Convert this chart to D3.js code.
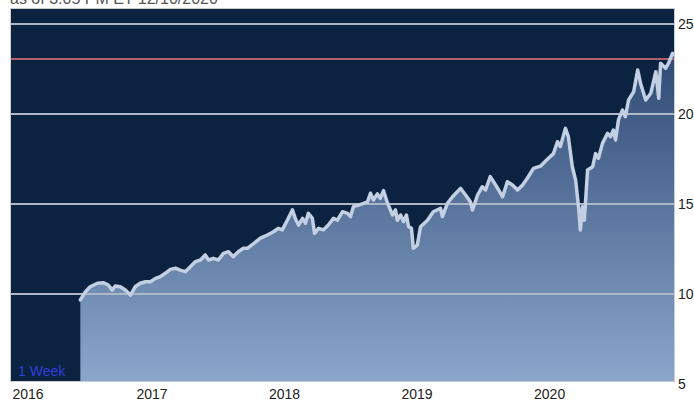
<!DOCTYPE html>
<html>
<head>
  <meta charset="utf-8">
  <title>d3 - price chart</title>
  <script src="https://d3js.org/d3.v7.min.js"></script>
  <style>
    body { margin: 0; background: #fff; }
    text { font-family: Arial, "Liberation Sans", sans-serif; }
  </style>
</head>
<body>
  <script>
    let width = 694;
    let height = 402;

    // data
    let dates = [
      '2016-06-19','2016-07-03','2016-07-16','2016-08-05','2016-08-21','2016-09-04','2016-09-15','2016-09-23',
      '2016-10-07','2016-10-21','2016-11-04','2016-11-17','2016-12-01','2016-12-15','2016-12-29',
      '2017-01-12','2017-01-25','2017-02-08','2017-02-22','2017-03-08','2017-03-21','2017-04-04','2017-04-18',
      '2017-05-02','2017-05-16','2017-05-29','2017-06-07','2017-06-20','2017-07-04','2017-07-18','2017-08-01',
      '2017-08-14','2017-08-28','2017-09-11','2017-09-22','2017-10-09','2017-10-28','2017-11-16','2017-12-03',
      '2017-12-16','2017-12-27',
      '2018-01-10','2018-01-24','2018-02-01','2018-02-10','2018-02-21','2018-03-01','2018-03-09','2018-03-20',
      '2018-03-26','2018-04-06','2018-04-19','2018-05-03','2018-05-17','2018-05-28','2018-06-11','2018-06-25',
      '2018-07-03','2018-07-11','2018-07-25','2018-08-08','2018-08-19','2018-08-27','2018-09-04','2018-09-15',
      '2018-09-23','2018-10-02','2018-10-13','2018-10-27','2018-11-04','2018-11-09','2018-11-18','2018-11-26',
      '2018-12-04','2018-12-10','2018-12-18','2018-12-23',
      '2019-01-03','2019-01-12','2019-01-31','2019-02-16','2019-03-08','2019-03-13','2019-03-27','2019-04-10',
      '2019-05-02','2019-05-16','2019-05-29','2019-06-04','2019-06-18','2019-07-01','2019-07-10','2019-07-23',
      '2019-08-01','2019-08-15','2019-08-26','2019-09-08','2019-09-22','2019-10-06','2019-10-20','2019-11-02',
      '2019-11-19','2019-12-08','2019-12-28',
      '2020-01-13','2020-01-24','2020-02-01','2020-02-15','2020-02-23','2020-03-05','2020-03-14','2020-03-22',
      '2020-03-27','2020-04-02','2020-04-07','2020-04-16','2020-04-30','2020-05-08','2020-05-16','2020-05-27',
      '2020-06-10','2020-06-18','2020-06-26','2020-07-02','2020-07-10','2020-07-21','2020-07-29','2020-08-07',
      '2020-08-21','2020-09-01','2020-09-09','2020-09-23','2020-10-07','2020-10-21','2020-10-29','2020-11-03',
      '2020-11-17','2020-11-25','2020-12-06','2020-12-10'
    ];
    let prices = [
      9.67,10.13,10.40,10.60,10.63,10.50,10.22,10.44,
      10.40,10.22,9.94,10.40,10.60,10.68,10.68,
      10.87,10.96,11.15,11.37,11.43,11.33,11.24,11.52,
      11.80,11.89,12.17,11.89,11.98,11.89,12.26,12.35,
      12.07,12.35,12.54,12.54,12.80,13.10,13.28,13.46,
      13.65,13.56,
      14.10,14.67,14.20,13.83,14.20,13.93,14.48,14.20,
      13.37,13.65,13.56,13.83,14.20,14.10,14.57,14.48,
      14.30,14.85,14.94,15.04,15.13,15.60,15.22,15.56,
      15.31,15.74,15.04,14.39,14.67,14.10,14.39,14.02,
      14.39,13.74,13.65,12.54,
      12.72,13.74,14.10,14.57,14.76,14.30,15.04,15.40,
      15.87,15.50,15.13,14.67,15.50,15.96,15.78,16.52,
      16.24,15.78,15.40,16.24,16.06,15.78,16.06,16.43,
      16.98,17.10,17.50,
      17.80,18.46,18.19,19.20,18.74,17.07,16.33,14.85,
      13.56,14.85,14.10,16.89,17.07,17.80,17.54,18.37,
      18.93,18.74,19.11,18.56,19.67,20.22,19.85,20.78,
      21.24,22.44,21.70,20.78,21.15,22.35,20.87,22.82,
      22.54,22.82,23.37,23.30
    ];
    let yTicks = [5, 10, 15, 20, 25];
    let xTicks = ['2016-01-01','2017-01-01','2018-01-01','2019-01-01','2020-01-01'];
    let refLine = 23.06;
    let startDate = '2015-12-11';
    let endDate = '2020-12-10';
    let asOf = 'as of 3:05 PM ET 12/10/2020';
    let periodLabel = '1 Week';

    let parse = d3.timeParse('%Y-%m-%d');
    let data = dates.map((d, i) => ({ date: parse(d), value: prices[i] }));

    let plotL = 11, plotR = 674, plotT = 9, plotB = 381;

    let x = d3.scaleTime()
      .domain([parse(startDate), parse(endDate)])
      .range([plotL, plotR]);
    let y = d3.scaleLinear()
      .domain([5, 25])
      .range([384, 24]);

    let svg = d3.select('body')
      .append('svg')
      .attr('width', width)
      .attr('height', height);

    // gradient for the area
    let grad = svg.append('defs').append('linearGradient')
      .attr('id', 'fillGrad')
      .attr('gradientUnits', 'userSpaceOnUse')
      .attr('x1', 0).attr('x2', 0)
      .attr('y1', plotT + 20).attr('y2', plotB);
    grad.append('stop').attr('offset', '0%').attr('stop-color', '#28446e');
    grad.append('stop').attr('offset', '100%').attr('stop-color', '#8ba6cb');

    svg.append('clipPath').attr('id', 'plotClip')
      .append('rect')
      .attr('x', plotL).attr('y', plotT)
      .attr('width', plotR - plotL).attr('height', plotB - plotT);

    // "as of" text, cut off at the top like in the original
    svg.append('text')
      .attr('x', 10)
      .attr('y', 4)
      .attr('font-size', 16)
      .attr('fill', '#555')
      .text(asOf);

    // background
    svg.append('rect')
      .attr('x', plotL).attr('y', plotT)
      .attr('width', plotR - plotL).attr('height', plotB - plotT)
      .attr('fill', '#0b2341');

    let plot = svg.append('g').attr('clip-path', 'url(#plotClip)');

    // area
    let area = d3.area()
      .x(d => x(d.date))
      .y0(plotB)
      .y1(d => y(d.value));
    plot.append('path')
      .datum(data)
      .attr('d', area)
      .attr('fill', 'url(#fillGrad)');

    // gridlines
    plot.selectAll('.grid')
      .data(yTicks.filter(v => v > 5))
      .enter()
      .append('line')
      .attr('class', 'grid')
      .attr('x1', plotL).attr('x2', plotR)
      .attr('y1', d => y(d)).attr('y2', d => y(d))
      .attr('stroke', '#aeb7c5')
      .attr('stroke-width', 2);

    plot.append('line')
      .attr('x1', plotL).attr('x2', plotR)
      .attr('y1', y(refLine)).attr('y2', y(refLine))
      .attr('stroke', '#b0606a')
      .attr('stroke-width', 2);

    // price line
    let line = d3.line()
      .x(d => x(d.date))
      .y(d => y(d.value));
    plot.append('path')
      .datum(data)
      .attr('d', line)
      .attr('fill', 'none')
      .attr('stroke', '#c3cfe2')
      .attr('stroke-width', 3.5)
      .attr('stroke-linejoin', 'round')
      .attr('stroke-linecap', 'round');

    // frame
    svg.append('rect')
      .attr('x', plotL - 0.5).attr('y', plotT - 0.5)
      .attr('width', plotR - plotL + 1).attr('height', plotB - plotT + 1)
      .attr('fill', 'none')
      .attr('stroke', '#c9ced6')
      .attr('stroke-width', 1);

    svg.append('text')
      .attr('x', 18)
      .attr('y', 376)
      .attr('font-size', 14)
      .attr('fill', '#2f40dc')
      .text(periodLabel);

    // y axis labels on the right
    let yAxis = d3.axisRight(y)
      .tickValues(yTicks)
      .tickSize(0)
      .tickPadding(4);
    let gy = svg.append('g')
      .attr('transform', 'translate(' + plotR + ',0)')
      .call(yAxis);
    gy.select('.domain').remove();
    gy.selectAll('text')
      .attr('font-size', 14)
      .attr('font-family', 'Arial, "Liberation Sans", sans-serif')
      .attr('fill', '#222');

    // x axis labels
    let xAxis = d3.axisBottom(x)
      .tickValues(xTicks.map(parse))
      .tickFormat(d3.timeFormat('%Y'))
      .tickSize(0)
      .tickPadding(6);
    let gx = svg.append('g')
      .attr('transform', 'translate(0,' + (plotB + 2) + ')')
      .call(xAxis);
    gx.select('.domain').remove();
    gx.selectAll('text')
      .attr('font-size', 14)
      .attr('font-family', 'Arial, "Liberation Sans", sans-serif')
      .attr('fill', '#222')
      .attr('text-anchor', (d, i) => i === 0 ? 'start' : 'middle')
      .attr('x', (d, i) => i === 0 ? plotL + 1 - x(d) : 0);
  </script>
</body>
</html>
